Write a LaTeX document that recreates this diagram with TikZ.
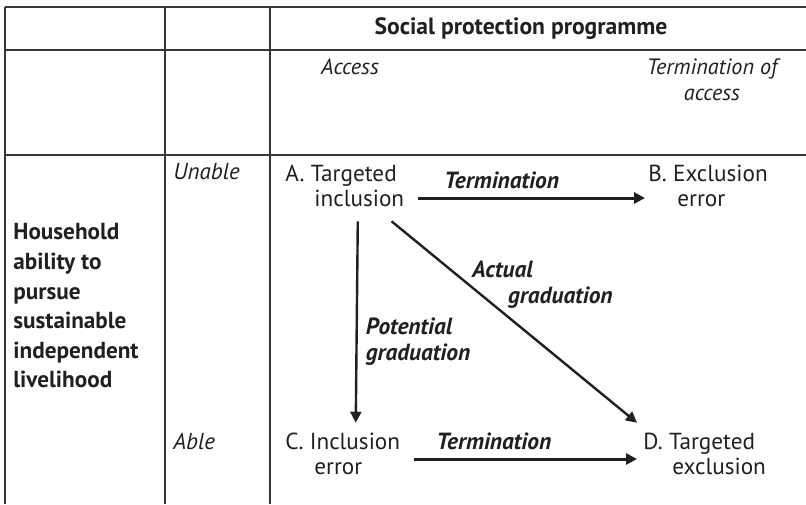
\documentclass[tikz,border=0pt]{standalone}
\usepackage{fontspec}
\setmainfont{PT Sans}
\usetikzlibrary{arrows.meta}
\definecolor{pagebg}{HTML}{FFFFFF}
\definecolor{ink}{HTML}{231F20}
\definecolor{rule}{HTML}{3A3638}

\begin{document}
\begin{tikzpicture}[
  x=0.5pt,
  y=-0.5pt,
  font=\fontsize{11.6}{12.5}\selectfont,
  text=ink,
  >={Triangle[length=5.5pt,width=5.5pt]},
  grid/.style={draw=rule, line width=0.7pt},
  colhead/.style={inner sep=0pt, align=center, font=\fontsize{11.1}{13}\selectfont\itshape},
  rowhead/.style={anchor=west, inner sep=0pt, font=\fontsize{11.5}{12.5}\selectfont\itshape},
  state/.style={anchor=west, align=left, inner sep=0pt},
  tag/.style={inner sep=1pt, align=left, font=\fontsize{11.7}{13}\selectfont\bfseries\itshape},
  flow/.style={->, draw=ink, line width=1.2pt},
  stop/.style={->, draw=ink, line width=1.5pt}
]
  \useasboundingbox (0,0) rectangle (806,504);
  \fill[pagebg] (0,0) rectangle (806,504);

  \draw[grid] (5,7) -- (806,7) (5,50) -- (806,50) (5,155) -- (806,155);
  \draw[grid] (5,7) -- (5,504) (165,7) -- (165,504) (270,7) -- (270,504);

  \node[inner sep=0pt, font=\fontsize{11.8}{12.5}\selectfont\bfseries] (prog) at (521,29) {Social protection programme};
  \node[colhead] (access) at (350,67) {Access};
  \node[colhead] (ended) at (712,80) {Termination of\\access};

  \node[anchor=west, align=left, inner sep=0pt, font=\fontsize{11.6}{14.8}\selectfont\bfseries] (ability) at (13,306)
    {Household\\ability to\\pursue\\sustainable\\independent\\livelihood};
  \node[rowhead] (unable) at (173,172) {Unable};
  \node[rowhead] (able) at (173,441) {Able};

  \node[state] (a) at (285,186) {A. Targeted\\\hspace*{14.5pt}inclusion};
  \node[state] (b) at (648,186) {B. Exclusion\\\hspace*{14.5pt}error};
  \node[state] (c) at (285,454) {C. Inclusion\\\hspace*{14.5pt}error};
  \node[state] (d) at (643,454) {D. Targeted\\\hspace*{14.5pt}exclusion};

  \draw[stop] ([shift={(13,12)}]a.east) -- node[tag, above=3pt, pos=0.37] (stopab) {Termination} ([shift={(-3,12)}]b.west);
  \draw[stop] ([shift={(13,5)}]c.east) -- node[tag, above=3pt, pos=0.36] (stopcd) {Termination} ([shift={(-6,5)}]d.west);
  \draw[flow] ([shift={(13,14)}]a.south) -- node[tag, right=3pt, pos=0.6] (potential) {Potential\\graduation} ([shift={(13,-10)}]c.north);
  \draw[flow] ([shift={(-13,14)}]a.south east) -- node[tag, anchor=west, pos=0.315] (actual) {Actual\\\hspace*{18pt}graduation} ([shift={(-6,-10)}]d.north west);
\end{tikzpicture}
\end{document}
